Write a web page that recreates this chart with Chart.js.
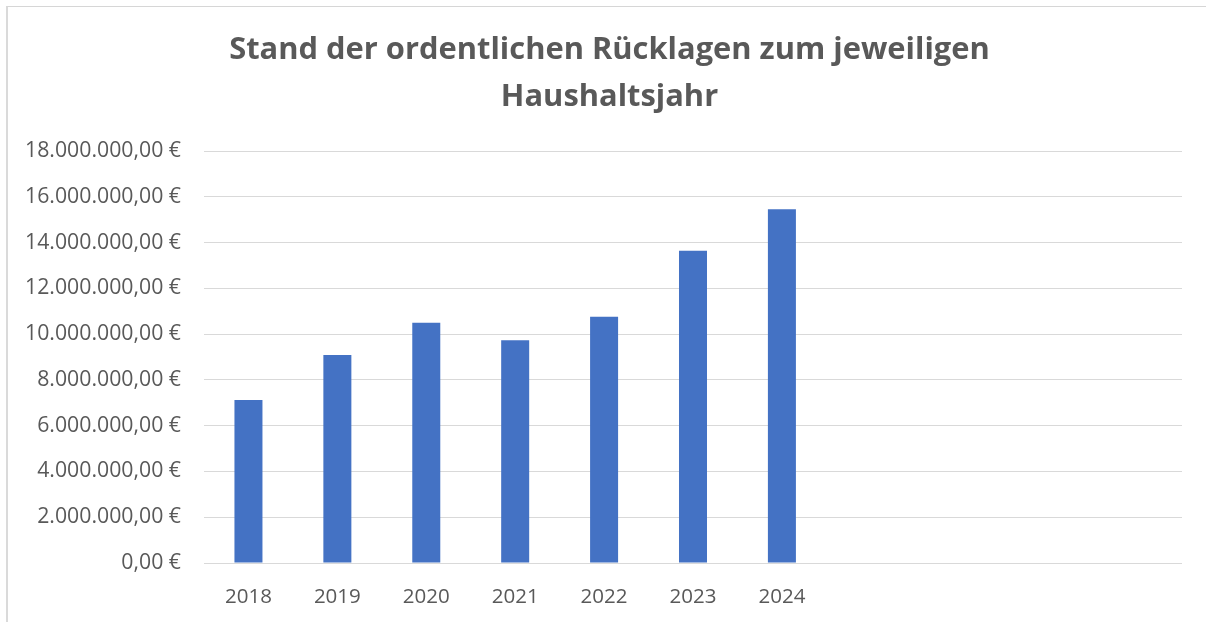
<!DOCTYPE html>
<html>
<head>
<meta charset="utf-8">
<script src="https://cdn.jsdelivr.net/npm/chart.js@4.4.1/dist/chart.umd.min.js"></script>
<style>
  html, body { margin: 0; padding: 0; background: #ffffff; }
  #wrap { position: relative; width: 1206px; height: 622px; overflow: hidden; }
  #frame { position: absolute; left: 6px; top: 6px; right: 0; bottom: 0;
           border-top: 1px solid #d6d6d6; border-left: 2px solid #dadada; pointer-events: none; }
  canvas { position: absolute; left: 0; top: 0; }
</style>
</head>
<body>
<div id="wrap">
  <canvas id="c" width="1206" height="622"></canvas>
  <div id="frame"></div>
</div>
<script>
// ---- data ----
const titleLines = ["Stand der ordentlichen Rücklagen zum jeweiligen", "Haushaltsjahr"];
const categories = ["2018", "2019", "2020", "2021", "2022", "2023", "2024", "", "", "", ""];
const reserves = [7120000, 9090000, 10500000, 9730000, 10760000, 13640000, 15460000, null, null, null, null];
const yTicks = [0, 2000000, 4000000, 6000000, 8000000, 10000000, 12000000, 14000000, 16000000, 18000000];

// ---- helpers ----
function fmtEuro(v) {
  const neg = v < 0; v = Math.abs(v);
  const fixed = v.toFixed(2);
  let [intPart, dec] = fixed.split('.');
  intPart = intPart.replace(/\B(?=(\d{3})+(?!\d))/g, '.');
  return (neg ? '-' : '') + intPart + ',' + dec + ' €';
}
const mctx = document.createElement('canvas').getContext('2d');
function fitSize(text, family, weight, target) {
  mctx.font = weight + ' 100px ' + family;
  const w = mctx.measureText(text).width;
  return 100 * target / w;
}
const FAMILY = "'Open Sans', 'DejaVu Sans', sans-serif";
const titleSize = fitSize(titleLines[0], FAMILY, 'bold', 761);
const yTickSize = fitSize(fmtEuro(18000000), FAMILY, 'normal', 156);
const xTickSize = fitSize('2018', FAMILY, 'normal', 47);

const TEXT = '#595959';
const GRID = '#d9d9d9';
const TITLE_SHIFT = 18.5;

const shiftTitle = {
  id: 'shiftTitle',
  afterLayout(chart) {
    const tb = chart.titleBlock;
    if (tb) { tb.left += TITLE_SHIFT; tb.right += TITLE_SHIFT; }
  }
};

new Chart(document.getElementById('c'), {
  type: 'bar',
  plugins: [shiftTitle],
  data: {
    labels: categories,
    datasets: [{
      data: reserves,
      backgroundColor: '#4472c4',
      borderWidth: 0,
      barPercentage: 0.315,
      categoryPercentage: 1.0
    }]
  },
  options: {
    responsive: false,
    animation: false,
    layout: { padding: { left: 0, right: 24, top: 0, bottom: 0 } },
    plugins: {
      legend: { display: false },
      tooltip: { enabled: false },
      title: {
        display: true,
        text: titleLines,
        color: TEXT,
        font: { family: FAMILY, weight: 'bold', size: titleSize, lineHeight: 47.5 / titleSize },
        padding: { top: 26, bottom: 30 }
      }
    },
    scales: {
      x: {
        grid: { display: false, drawTicks: false },
        border: { display: false },
        ticks: {
          color: TEXT, autoSkip: false, maxRotation: 0, minRotation: 0, padding: 22,
          font: { family: FAMILY, size: xTickSize }
        },
        afterFit: (s) => { s.height = 622 - 563; }
      },
      y: {
        min: 0, max: 18000000,
        afterBuildTicks: (s) => { s.ticks = yTicks.map(v => ({ value: v })); },
        grid: { color: GRID, lineWidth: 1, drawTicks: false },
        border: { display: false },
        ticks: {
          color: TEXT, padding: 23,
          font: { family: FAMILY, size: yTickSize },
          callback: (v) => fmtEuro(v)
        },
        afterFit: (s) => { s.width = 204; }
      }
    }
  }
});
</script>
</body>
</html>
